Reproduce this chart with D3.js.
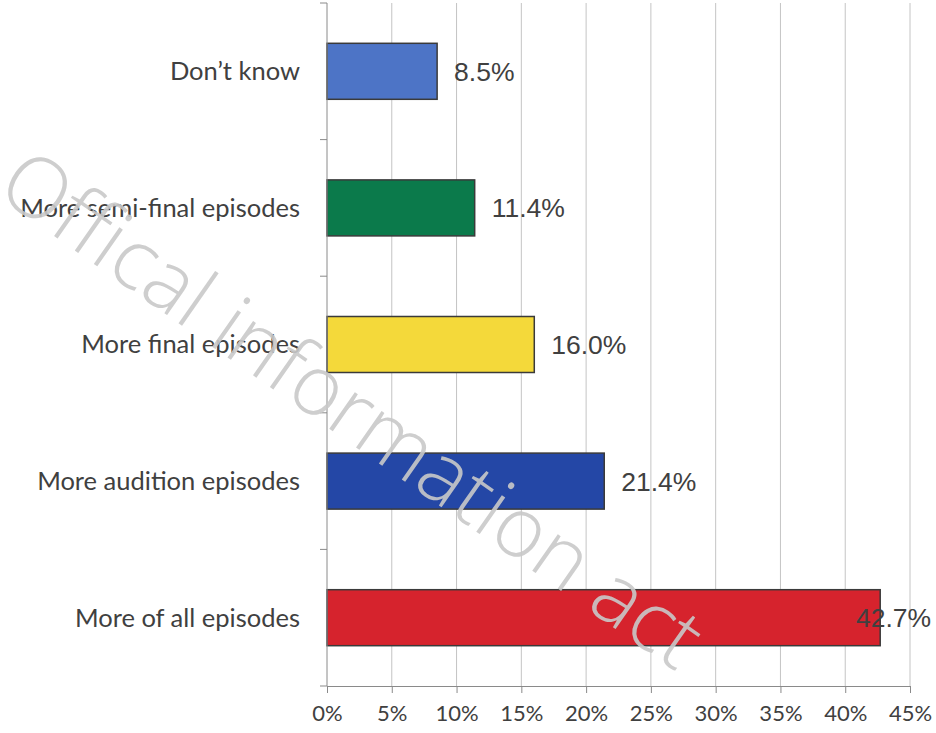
<!DOCTYPE html>
<html>
<head>
<meta charset="utf-8">
<script src="https://cdn.jsdelivr.net/npm/d3@7"></script>
<style>
  body { margin: 0; background: #fff; }
  svg { display: block; }
</style>
</head>
<body>
<svg class="mainSvg"></svg>
<script>
(function () {
  // ===========================================================================
  //     data area
  // ===========================================================================
  const categories = [
    'Don\u2019t know',
    'More semi-final episodes',
    'More final episodes',
    'More audition episodes',
    'More of all episodes',
  ];
  const values = [8.5, 11.4, 16.0, 21.4, 42.7];
  const barColors = ['#4d74c6', '#0b7a4b', '#f4d93a', '#2447a6', '#d6232d'];
  const xTicks = [0, 5, 10, 15, 20, 25, 30, 35, 40, 45];
  const watermark = 'Offical information act';

  const initWidth = 936;
  const initHeight = 733;
  const plot = { left: 327, right: 910, top: 3, bottom: 686 };
  const textColor = '#404040';

  // ===========================================================================
  //      procedure
  // ===========================================================================
  const svg = d3.select('.mainSvg')
    .attr('width', initWidth)
    .attr('height', initHeight);

  const x = d3.scaleLinear()
    .domain([0, 45])
    .range([plot.left, plot.right]);

  const y = d3.scaleBand()
    .domain(categories)
    .range([plot.top, plot.bottom])
    .paddingInner(0.59)
    .paddingOuter(0.295);

  // gridlines
  svg.append('g')
    .selectAll('line')
    .data(xTicks.slice(1))
    .enter()
    .append('line')
    .attr('x1', d => x(d))
    .attr('x2', d => x(d))
    .attr('y1', plot.top)
    .attr('y2', plot.bottom)
    .attr('stroke', '#c4c4c4')
    .attr('stroke-width', 1);

  // bars
  svg.append('g')
    .selectAll('rect')
    .data(values)
    .enter()
    .append('rect')
    .attr('x', x(0))
    .attr('y', (d, i) => y(categories[i]))
    .attr('width', d => x(d) - x(0))
    .attr('height', y.bandwidth())
    .attr('fill', (d, i) => barColors[i])
    .attr('stroke', '#3a3a3a')
    .attr('stroke-width', 1.5);

  // y axis line + boundary ticks
  const axisColor = '#8a8a8a';
  svg.append('line')
    .attr('x1', plot.left).attr('x2', plot.left)
    .attr('y1', plot.top).attr('y2', plot.bottom)
    .attr('stroke', axisColor);
  svg.append('g')
    .selectAll('line')
    .data(d3.range(categories.length + 1))
    .enter()
    .append('line')
    .attr('x1', plot.left - 7)
    .attr('x2', plot.left)
    .attr('y1', i => plot.top + i * y.step())
    .attr('y2', i => plot.top + i * y.step())
    .attr('stroke', axisColor);

  // category labels
  svg.append('g')
    .selectAll('text')
    .data(categories)
    .enter()
    .append('text')
    .text(d => d)
    .attr('x', plot.left - 27)
    .attr('y', d => y(d) + y.bandwidth() / 2)
    .attr('dy', '0.35em')
    .attr('text-anchor', 'end')
    .attr('font-family', 'Lato, "Noto Sans", sans-serif')
    .attr('font-size', 25.5)
    .attr('fill', textColor);

  // x axis
  const xAxis = svg.append('g')
    .attr('transform', `translate(0,${plot.bottom})`)
    .call(d3.axisBottom(x).tickValues(xTicks).tickSize(7).tickSizeOuter(0)
      .tickFormat(d => d + '%'));
  xAxis.select('.domain').attr('stroke', axisColor);
  xAxis.selectAll('.tick line').attr('stroke', axisColor);
  xAxis.selectAll('.tick text')
    .attr('font-family', 'Lato, "Noto Sans", sans-serif')
    .attr('font-size', 22)
    .attr('fill', textColor)
    .attr('dy', '1.15em');

  // watermark
  svg.append('text')
    .text(watermark)
    .attr('transform', 'translate(-6,194) rotate(35)')
    .attr('font-family', '"Open Sans", sans-serif')
    .attr('font-weight', 300)
    .attr('font-size', 84)
    .attr('fill', '#c9c9c9')
    .attr('opacity', 0.9);

  // value labels (drawn last so the longest one sits over its bar)
  svg.append('g')
    .selectAll('text')
    .data(values)
    .enter()
    .append('text')
    .text(d => d.toFixed(1) + '%')
    .attr('x', d => Math.min(x(d) + 17, initWidth - 80))
    .attr('y', (d, i) => y(categories[i]) + y.bandwidth() / 2)
    .attr('dy', '0.36em')
    .attr('font-family', '"Liberation Sans", Arial, sans-serif')
    .attr('font-size', 26.5)
    .attr('fill', textColor);
})();
</script>
</body>
</html>
